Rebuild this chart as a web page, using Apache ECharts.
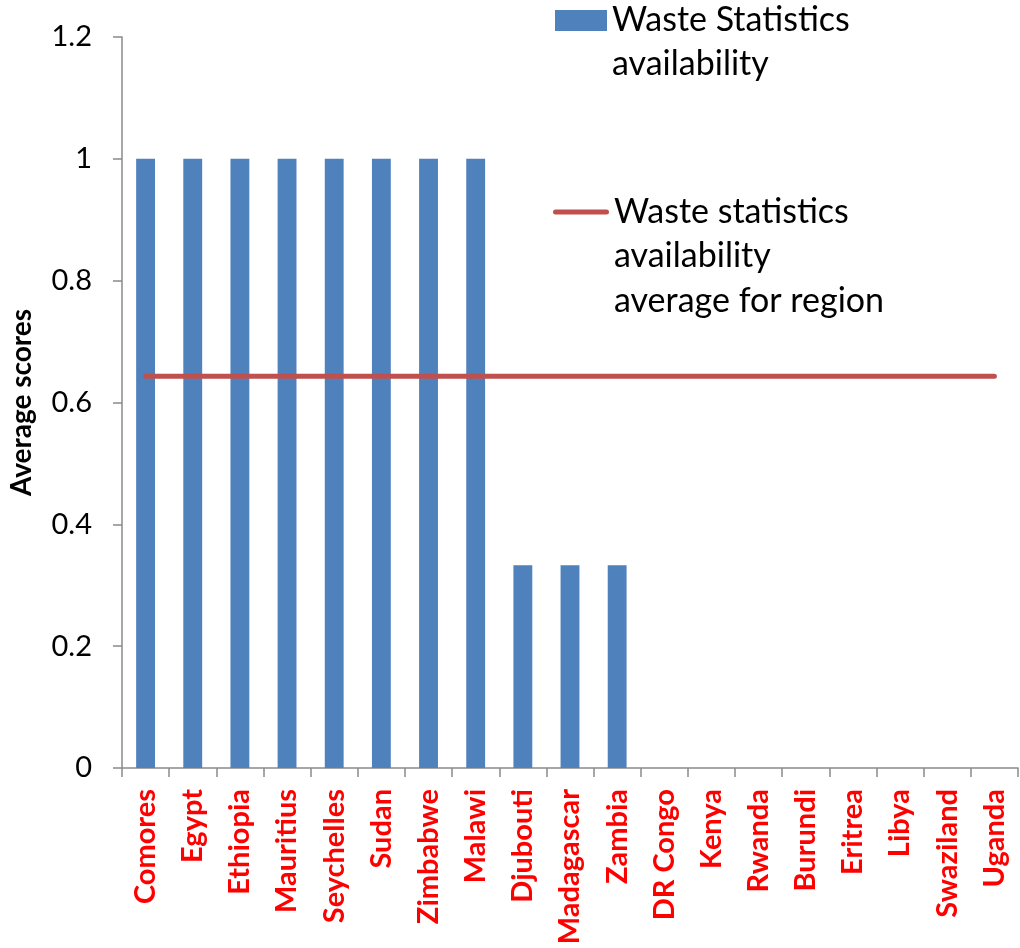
<!DOCTYPE html>
<html>
<head>
<meta charset="utf-8">
<script src="https://cdn.jsdelivr.net/npm/echarts@6/dist/echarts.min.js"></script>
<style>
html,body{margin:0;padding:0;background:#fff;}
#chart{width:1020px;height:948px;}
</style>
</head>
<body>
<div id="chart"></div>
<script>
const categories = ['Comores','Egypt','Ethiopia','Mauritius','Seychelles','Sudan','Zimbabwe','Malawi','Djubouti','Madagascar','Zambia','DR Congo','Kenya','Rwanda','Burundi','Eritrea','Libya','Swaziland','Uganda'];
const availability = [1,1,1,1,1,1,1,1,0.333,0.333,0.333,0,0,0,0,0,0,0,0];
const regionAverage = [0.643,0.643,0.643,0.643,0.643,0.643,0.643,0.643,0.643,0.643,0.643,0.643,0.643,0.643,0.643,0.643,0.643,0.643,0.643];
const yTicks = {min: 0, max: 1.2, interval: 0.2};
const barName = 'Waste Statistics availability';
const lineName = 'Waste statistics availability average for region';
// leading blank lines keep the first text line level with the legend icon
const legendLabels = {};
legendLabels[barName] = '\nWaste Statistics\navailability';
legendLabels[lineName] = '\n\nWaste statistics\navailability\naverage for region';

const chart = echarts.init(document.getElementById('chart'), null, {renderer: 'canvas'});
const FONT = 'Lato';
const axisGray = '#8a8a8a';
chart.setOption({
  animation: false,
  backgroundColor: '#ffffff',
  grid: {left: 122, right: 2, top: 37, bottom: 180, containLabel: false, outerBoundsMode: 'none'},
  legend: [
    {
      data: [barName],
      left: 555, top: -45.5, padding: 0,
      orient: 'vertical',
      itemWidth: 52, itemHeight: 21,
      icon: 'rect',
      selectedMode: false,
      formatter: n => legendLabels[n],
      textStyle: {fontFamily: FONT, fontSize: 34, color: '#000', lineHeight: 44}
    },
    {
      data: [{name: lineName, icon: 'path://M2.5,0H53.5A2.5,2.5,0,0,1,53.5,5H2.5A2.5,2.5,0,0,1,2.5,0Z', itemStyle: {color: '#C0504D', borderWidth: 0}}],
      left: 553, top: 100.75, padding: 0,
      orient: 'vertical',
      itemWidth: 56, itemHeight: 5,
      selectedMode: false,
      formatter: n => legendLabels[n],
      textStyle: {fontFamily: FONT, fontSize: 34, color: '#000', lineHeight: 44.5}
    }
  ],
  xAxis: {
    type: 'category',
    data: categories,
    boundaryGap: true,
    axisLine: {show: true, lineStyle: {color: axisGray, width: 1.5}},
    axisTick: {show: true, inside: false, length: 9, alignWithLabel: false, lineStyle: {color: axisGray, width: 1.5}},
    axisLabel: {rotate: 90, margin: 21, interval: 0, color: '#ff0000', fontFamily: FONT, fontWeight: 'bold', fontSize: 29},
    splitLine: {show: false}
  },
  yAxis: {
    type: 'value',
    min: yTicks.min, max: yTicks.max, interval: yTicks.interval,
    name: 'Average scores',
    nameLocation: 'middle',
    nameRotate: 90,
    nameGap: 86,
    nameTextStyle: {fontFamily: FONT, fontWeight: 'bold', fontSize: 28, color: '#000'},
    axisLine: {show: true, lineStyle: {color: axisGray, width: 1.5}},
    axisTick: {show: true, inside: false, length: 9, lineStyle: {color: axisGray, width: 1.5}},
    axisLabel: {margin: 30, color: '#000', fontFamily: FONT, fontSize: 29},
    splitLine: {show: false}
  },
  series: [
    {
      name: barName,
      type: 'bar',
      data: availability,
      barWidth: '40%',
      itemStyle: {color: '#4F81BD'}
    },
    {
      name: lineName,
      type: 'line',
      data: regionAverage,
      symbol: 'none',
      showSymbol: false,
      lineStyle: {color: '#C0504D', width: 5, cap: 'round'},
      itemStyle: {color: '#C0504D'}
    }
  ]
});
</script>
</body>
</html>
